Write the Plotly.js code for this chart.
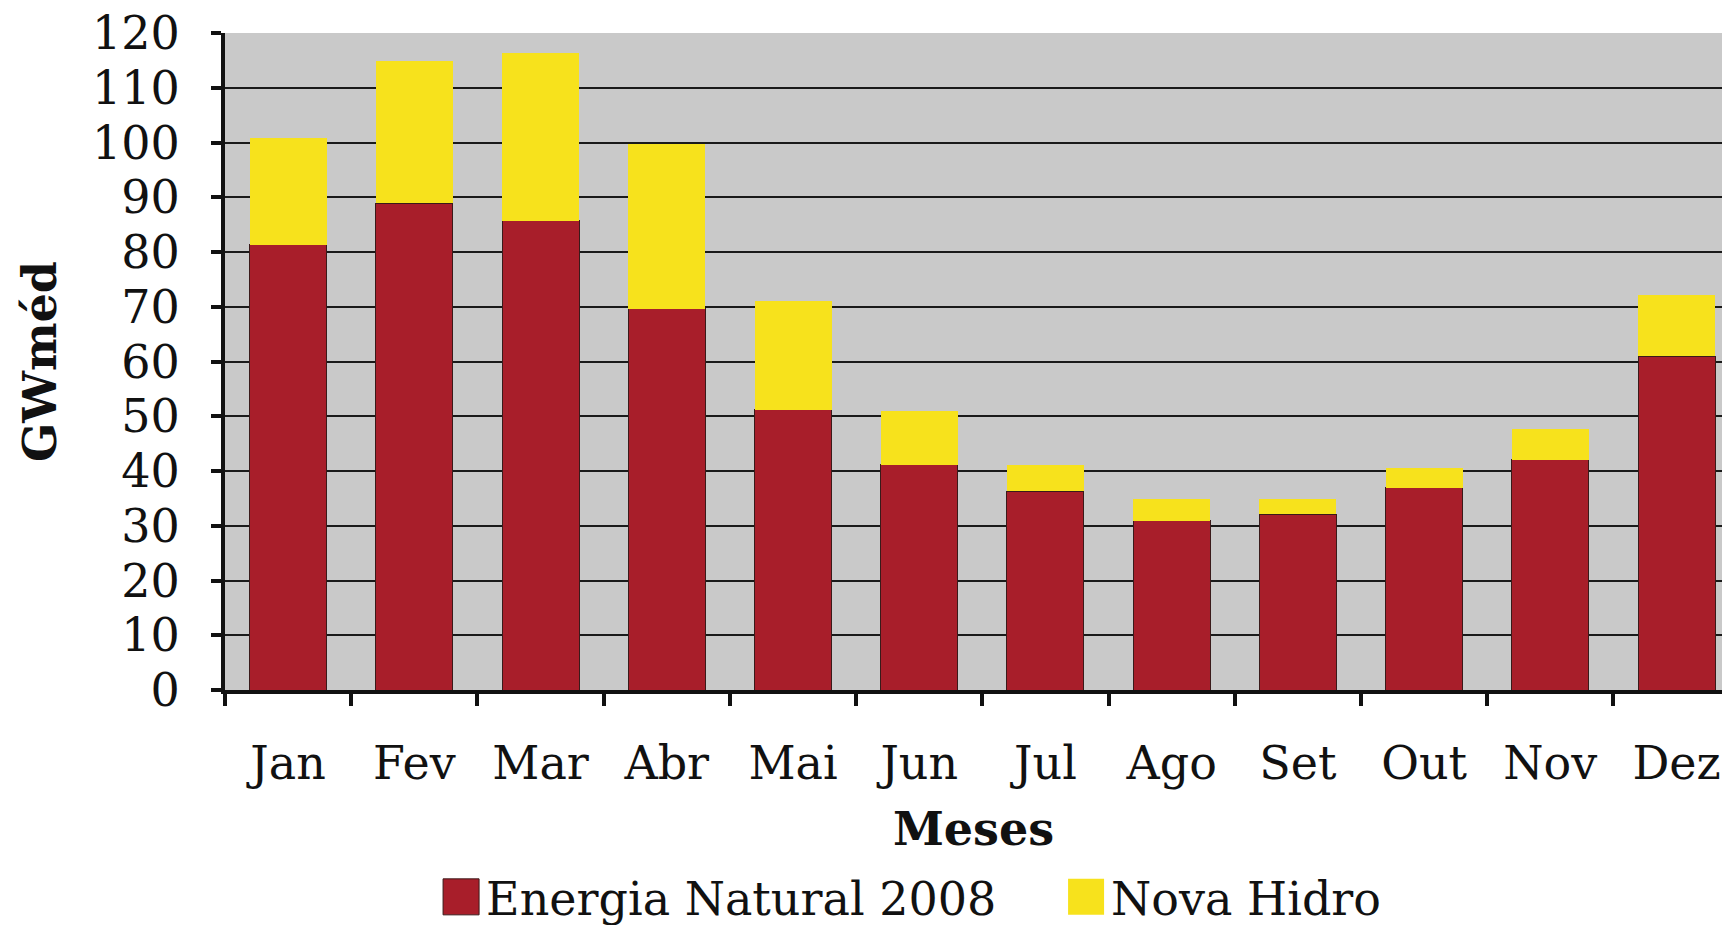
<!DOCTYPE html>
<html>
<head>
<meta charset="utf-8">
<script src="https://cdn.plot.ly/plotly-3.0.1.min.js"></script>
<style>html,body{margin:0;padding:0;background:#fff}#chart{width:1722px;height:925px}</style>
</head>
<body>
<div id="chart"></div>
<script>
const months = ["Jan","Fev","Mar","Abr","Mai","Jun","Jul","Ago","Set","Out","Nov","Dez"];
const energiaNatural2008 = [81.3, 88.9, 85.7, 69.6, 51.2, 41.1, 36.3, 30.9, 32.1, 36.9, 42.1, 61.0];
const novaHidro = [19.6, 25.9, 30.7, 30.1, 19.8, 9.9, 4.8, 4.0, 2.8, 3.6, 5.5, 11.2];
const yTicks = [0,10,20,30,40,50,60,70,80,90,100,110,120];

const font = "DejaVu Serif, Liberation Serif, serif";
const traces = [
  {type:"bar", name:"Energia Natural 2008", x:months, y:energiaNatural2008,
   marker:{color:"#a81e2a", line:{color:"#3a1a1a", width:1}}},
  {type:"bar", name:"Nova Hidro", x:months, y:novaHidro,
   marker:{color:"#f7e21c", line:{color:"#f7e21c", width:0}}}
];
const layout = {
  width:1722, height:925,
  barmode:"stack", bargap:0.39,
  paper_bgcolor:"#ffffff", plot_bgcolor:"#c9c9c9",
  margin:{l:225, r:0, t:33, b:235, autoexpand:false},
  font:{family:font, color:"#111", size:46},
  showlegend:true,
  legend:{orientation:"h", traceorder:"normal", x:0.141, xanchor:"left", y:-0.315, yanchor:"middle",
          font:{family:font, size:46, color:"#111"}, itemwidth:40, tracegroupgap:0,
          entrywidth:570, entrywidthmode:"pixels"},
  xaxis:{type:"category", range:[-0.5, 11.36], tickson:"boundaries", automargin:false,
         ticks:"outside", ticklen:12, tickwidth:4, tickcolor:"#111",
         showline:true, linewidth:4, linecolor:"#111", showgrid:false,
         ticklabelstandoff:30,
         tickfont:{family:font, size:46, color:"#111"},
         title:{text:"<b>Meses</b>", standoff:25, font:{family:font, size:46, color:"#111"}}},
  yaxis:{range:[0,120], tickvals:yTicks, ticktext:yTicks.map(String), automargin:false,
         ticks:"outside", ticklen:10, tickwidth:4, tickcolor:"#111",
         showline:true, linewidth:4, linecolor:"#111",
         showgrid:true, gridcolor:"#1a1a1a", gridwidth:2, zeroline:false,
         ticklabelstandoff:22,
         tickfont:{family:font, size:46, color:"#111"},
         title:{text:"<b>GWméd</b>", standoff:22, font:{family:font, size:46, color:"#111"}}}
};
Plotly.newPlot("chart", traces, layout, {displayModeBar:false, staticPlot:true}).then(function(gd){
  gd.querySelectorAll(".legend .legendpoints path").forEach(function(p){
    var t = p.getAttribute("transform") || "";
    p.setAttribute("transform", t + " scale(3)");
    p.style.vectorEffect = "non-scaling-stroke";
  });
});
</script>
</body>
</html>
